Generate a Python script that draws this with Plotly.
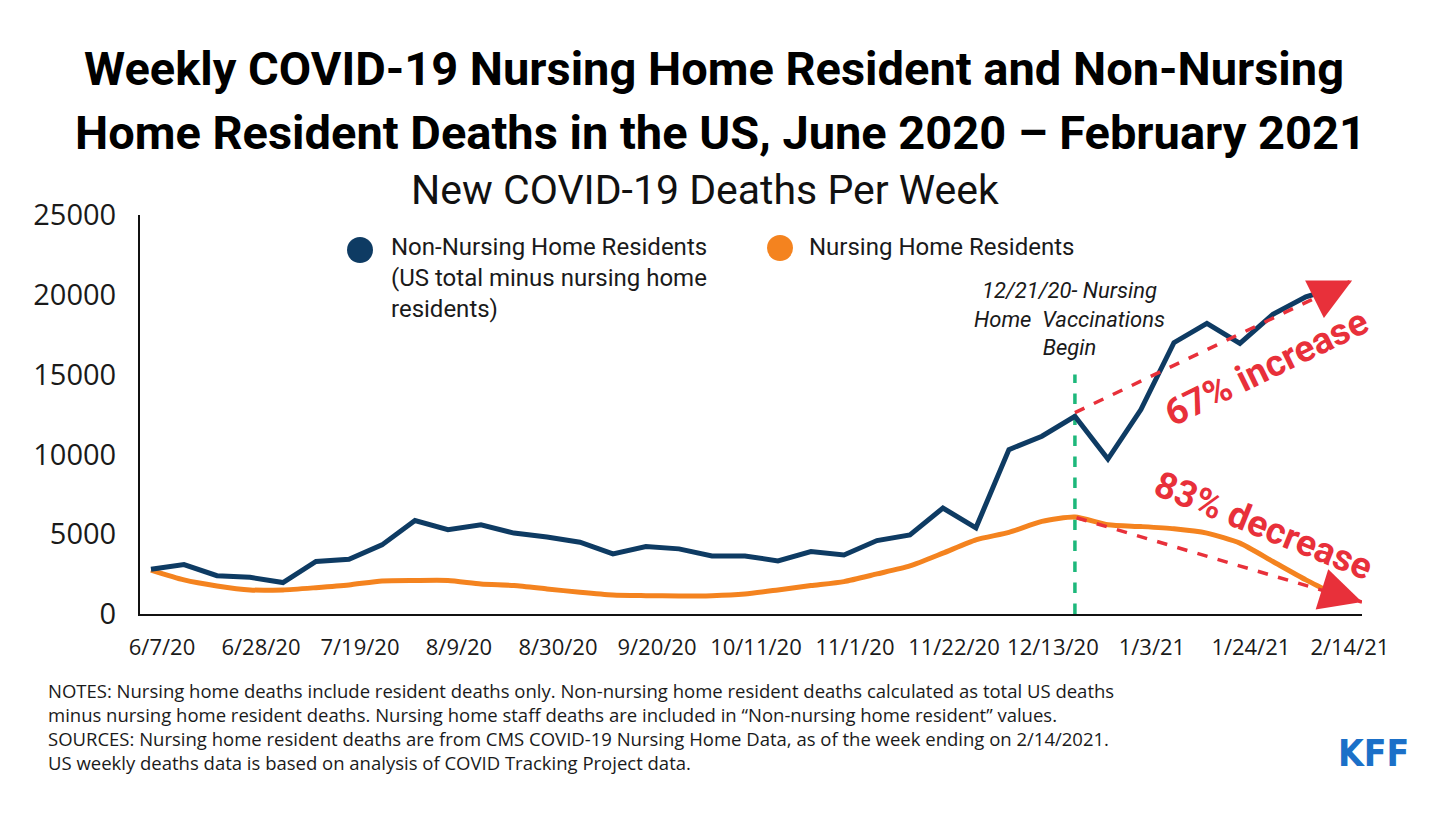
import plotly.graph_objects as go

weeks = ["6/7/20", "6/14/20", "6/21/20", "6/28/20", "7/5/20", "7/12/20", "7/19/20", "7/26/20",
         "8/2/20", "8/9/20", "8/16/20", "8/23/20", "8/30/20", "9/6/20", "9/13/20", "9/20/20",
         "9/27/20", "10/4/20", "10/11/20", "10/18/20", "10/25/20", "11/1/20", "11/8/20", "11/15/20",
         "11/22/20", "11/29/20", "12/6/20", "12/13/20", "12/20/20", "12/27/20", "1/3/21", "1/10/21",
         "1/17/21", "1/24/21", "1/31/21", "2/7/21", "2/14/21"]

non_nursing = [2800, 3100, 2400, 2300, 1970, 3290, 3430, 4330, 5860, 5280, 5590, 5070, 4820,
               4500, 3770, 4230, 4080, 3640, 3640, 3330, 3910, 3700, 4600, 4960, 6640, 5400,
               10300, 11140, 12390, 9710, 12810, 17000, 18210, 16960, 18780, 19870, 20500]

nursing = [2750, 2135, 1760, 1510, 1510, 1650, 1820, 2070, 2100, 2100, 1880, 1780, 1570,
           1360, 1190, 1150, 1130, 1150, 1256, 1510, 1780, 2030, 2510, 3010, 3810, 4650,
           5110, 5800, 6070, 5590, 5480, 5340, 5070, 4440, 3290, 2140, 1100]

tick_labels = ["6/7/20", "6/28/20", "7/19/20", "8/9/20", "8/30/20", "9/20/20", "10/11/20",
               "11/1/20", "11/22/20", "12/13/20", "1/3/21", "1/24/21", "2/14/21"]
y_ticks = [0, 5000, 10000, 15000, 20000, 25000]
y_tick_text = ["0", "5000", "10000", "15000", "20000", "25000"]

vacc_week = "12/20/20"
vacc_top = 15000

notes = [
    "NOTES: Nursing home deaths include resident deaths only. Non-nursing home resident deaths calculated as total US deaths",
    "minus nursing home resident deaths. Nursing home staff deaths are included in “Non-nursing home resident” values.",
    "SOURCES: Nursing home resident deaths are from CMS COVID-19 Nursing Home Data, as of the week ending on 2/14/2021.",
    "US weekly deaths data is based on analysis of COVID Tracking Project data.",
]

BLUE = "#0E3B63"
ORANGE = "#F4831F"
RED = "#E8303A"
GREEN = "#1DB87B"

# plot area in page pixels: left 140, right 1362, top 215, bottom 614
def px(x):
    return (x - 140) / 1222


def py(y):
    return (614 - y) / 399


fig = go.Figure()
fig.add_trace(go.Scatter(x=weeks, y=nursing, mode="lines", name="Nursing Home Residents",
                         line=dict(color=ORANGE, width=5, shape="spline", smoothing=0.6),
                         showlegend=False))
fig.add_trace(go.Scatter(x=weeks, y=non_nursing, mode="lines",
                         name="Non-Nursing Home Residents (US total minus nursing home residents)",
                         line=dict(color=BLUE, width=5), showlegend=False))

# vaccination line
fig.add_shape(type="line", xref="x", yref="y", x0=vacc_week, x1=vacc_week, y0=0, y1=vacc_top,
              line=dict(color=GREEN, width=3.5, dash="dash"), layer="below")

# trend arrows (dashed)
i_v = weeks.index(vacc_week)
up_start = (i_v, 12620)
up_tip = (36.4, 20900)
dn_start = (i_v + 0.05, 6030)
dn_tip = (36.7, 750)
for (s, t) in [(up_start, up_tip), (dn_start, dn_tip)]:
    fig.add_shape(type="line", xref="x", yref="y", x0=s[0], y0=s[1], x1=t[0], y1=t[1],
                  line=dict(color=RED, width=3.5, dash="dash"))
fig.add_annotation(x=up_tip[0], y=up_tip[1], xref="x", yref="y", text="", showarrow=True,
                   ax=-18, ay=9, arrowhead=2, arrowsize=2.4, arrowwidth=3.5, arrowcolor=RED,
                   standoff=0)
fig.add_annotation(x=dn_tip[0], y=dn_tip[1], xref="x", yref="y", text="", showarrow=True,
                   ax=-19, ay=-6, arrowhead=2, arrowsize=2.4, arrowwidth=3.5, arrowcolor=RED,
                   standoff=0)

fig.add_annotation(x=33.8, y=15450, xref="x", yref="y", text="<b>67% increase</b>",
                   showarrow=False, textangle=-26,
                   font=dict(family="Roboto", size=37, color=RED))
fig.add_annotation(x=33.7, y=5530, xref="x", yref="y", text="<b>83% decrease</b>",
                   showarrow=False, textangle=22,
                   font=dict(family="Roboto", size=37, color=RED))

fig.add_annotation(x=27.85, y=18460, xref="x", yref="y",
                   text="<i>12/21/20- Nursing<br>Home  Vaccinations<br>Begin</i>",
                   showarrow=False, align="center",
                   font=dict(family="Roboto", size=22, color="#1a1a1a"))

# titles
fig.add_annotation(x=px(714), y=py(68), xref="paper", yref="paper",
                   text="<b>Weekly COVID-19 Nursing Home Resident and Non-Nursing</b>",
                   showarrow=False, xanchor="center", yanchor="middle",
                   font=dict(family="Roboto", size=47, color="#000"))
fig.add_annotation(x=px(720), y=py(133), xref="paper", yref="paper",
                   text="<b>Home Resident Deaths in the US, June 2020 – February 2021</b>",
                   showarrow=False, xanchor="center", yanchor="middle",
                   font=dict(family="Roboto", size=47, color="#000"))
fig.add_annotation(x=px(705), y=py(190), xref="paper", yref="paper",
                   text="New COVID-19 Deaths Per Week",
                   showarrow=False, xanchor="center", yanchor="middle",
                   font=dict(family="Roboto", size=41, color="#111"))

# legend (drawn)
for cx, cy, col in [(360, 250, BLUE), (780, 248, ORANGE)]:
    fig.add_shape(type="circle", xref="paper", yref="paper", xsizemode="pixel", ysizemode="pixel",
                  xanchor=px(cx), yanchor=py(cy),
                  x0=-13, x1=13, y0=-13, y1=13, fillcolor=col, line=dict(width=0))
fig.add_annotation(x=px(389), y=py(231), xref="paper", yref="paper",
                   text="Non-Nursing Home Residents<br>(US total minus nursing home<br>residents)",
                   showarrow=False, xanchor="left", yanchor="top", align="left",
                   font=dict(family="Roboto", size=24, color="#1a1a1a"))
fig.add_annotation(x=px(807), y=py(231), xref="paper", yref="paper",
                   text="Nursing Home Residents",
                   showarrow=False, xanchor="left", yanchor="top", align="left",
                   font=dict(family="Roboto", size=24, color="#1a1a1a"))

# notes (one block)
fig.add_annotation(x=px(46), y=py(676), xref="paper", yref="paper", text="<br>".join(notes),
                   showarrow=False, xanchor="left", yanchor="top", align="left",
                   font=dict(family="Open Sans", size=18.5, color="#1a1a1a"))
fig.add_annotation(x=px(1411), y=py(753), xref="paper", yref="paper",
                   text="<b>KFF</b>", showarrow=False, xanchor="right", yanchor="middle",
                   font=dict(family="Liberation Sans Narrow, DejaVu Sans Condensed, Roboto",
                             size=37, color="#1B70C8"))

fig.update_layout(
    width=1448, height=809,
    margin=dict(l=132, r=94, t=207, b=203, autoexpand=False),
    paper_bgcolor="white", plot_bgcolor="white",
    showlegend=False,
    xaxis=dict(type="category", range=[-0.333, 36.7], tickmode="array", automargin=False,
               tickvals=tick_labels, ticktext=tick_labels, showgrid=False, zeroline=False,
               showline=True, linecolor="#111", linewidth=2, ticks="",
               ticklabelshift=11, ticklabelstandoff=13,
               tickfont=dict(family="Open Sans", size=22, color="#1a1a1a")),
    yaxis=dict(range=[0, 25000], tickmode="array", tickvals=y_ticks, ticktext=y_tick_text,
               automargin=False, showgrid=False, zeroline=False,
               showline=True, linecolor="#111", linewidth=2, ticks="",
               ticklabelstandoff=16,
               tickfont=dict(family="Open Sans", size=29, color="#1a1a1a")),
)

fig.write_html("out.html")
